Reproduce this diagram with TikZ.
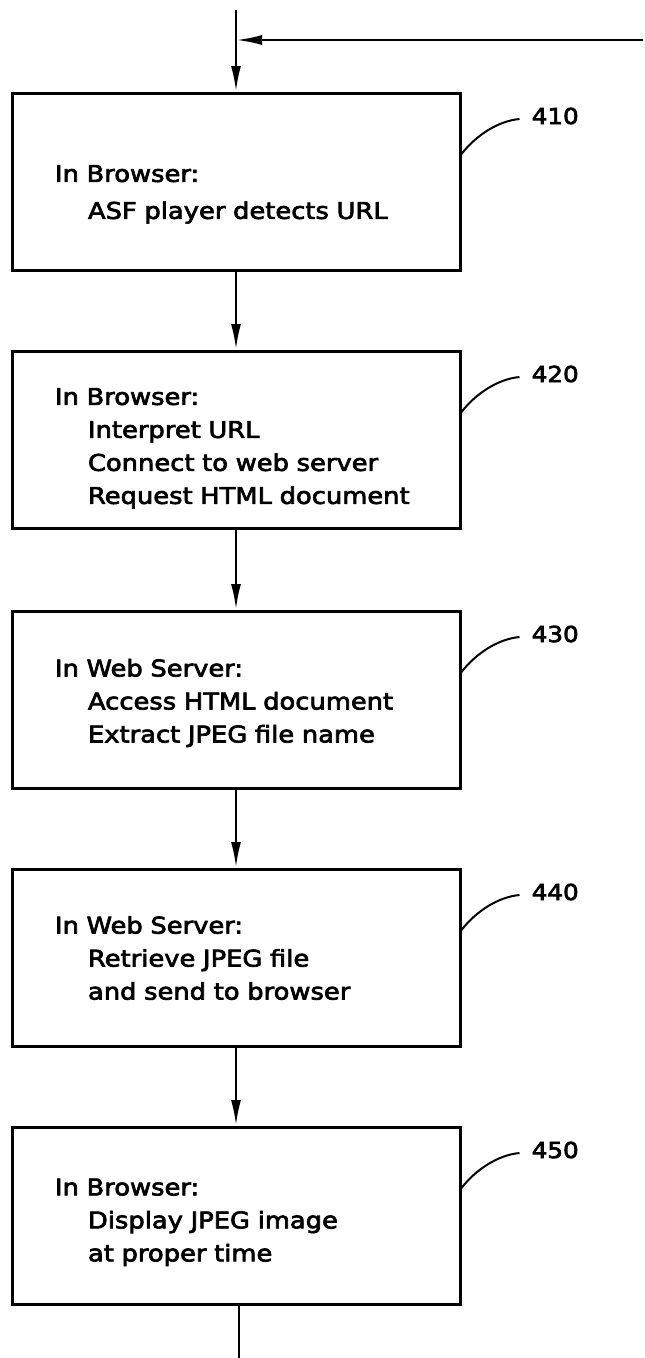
\documentclass[tikz,border=0pt]{standalone}
\usepackage{fontspec}
\setmainfont[FakeStretch=1.12,WordSpace=1.7,FakeBold=3]{DejaVu Sans}
\usetikzlibrary{arrows.meta,calc}
\newcommand\dropby[1]{\rule{0pt}{\dimexpr 17.5pt + #1pt + #1pt\relax}}
\begin{document}
\begin{tikzpicture}[x=1pt,y=-1pt,
  every node/.style={font=\fontsize{23}{33}\selectfont},
  stepbox/.style={draw, line width=3pt, minimum height=177pt, text width=362pt,
    inner xsep=43pt, inner ysep=0pt, align=left},
  conn/.style={line width=2.6pt},
  arr/.style={conn, -{Latex[length=26pt,width=10pt]}},
  reflabel/.style={font=\fontsize{22}{26}\selectfont, inner sep=2pt},
  lead/.style={line width=2pt}]
\useasboundingbox (0,0) rectangle (645,1358);

\node[stepbox] (b1) at (236,182) {\dropby{12}In Browser:\\[4pt]\hspace*{33pt}ASF player detects URL};
\node[stepbox] (b2) at (236,440) {\dropby{8}In Browser:\\\hspace*{33pt}Interpret URL\\\hspace*{33pt}Connect to web server\\\hspace*{33pt}Request HTML document};
\node[stepbox] (b3) at (236,700) {\dropby{3}In Web Server:\\\hspace*{33pt}Access HTML document\\\hspace*{33pt}Extract JPEG file name};
\node[stepbox] (b4) at (236,958) {In Web Server:\\\hspace*{33pt}Retrieve JPEG file\\\hspace*{33pt}and send to browser};
\node[stepbox] (b5) at (236,1216) {\dropby{6}In Browser:\\\hspace*{33pt}Display JPEG image\\\hspace*{33pt}at proper time};

\coordinate (top) at (236,10);
\coordinate (feed) at (643,40);
\coordinate (join) at (236,40);
\coordinate (bot) at (239,1358);

\draw[arr] (top) -- (b1.north);
\draw[arr] (feed) -- (join);
\draw[arr] (b1.south) -- (b2.north);
\draw[arr] (b2.south) -- (b3.north);
\draw[arr] (b3.south) -- (b4.north);
\draw[arr] (b4.south) -- (b5.north);
\draw[conn] (bot |- b5.south) -- (bot);

\foreach \b/\t in {b1/410,b2/420,b3/430,b4/440,b5/450}{
  \node[reflabel, anchor=west] (l\t) at ($(\b.north east)+(68,24)$) {\t};
  \draw[lead] ($(\b.north east)+(0,62)$) .. controls +(14,-18) and +(-22,2) .. ($(l\t.west)+(-10,3)$);
}
\end{tikzpicture}
\end{document}
